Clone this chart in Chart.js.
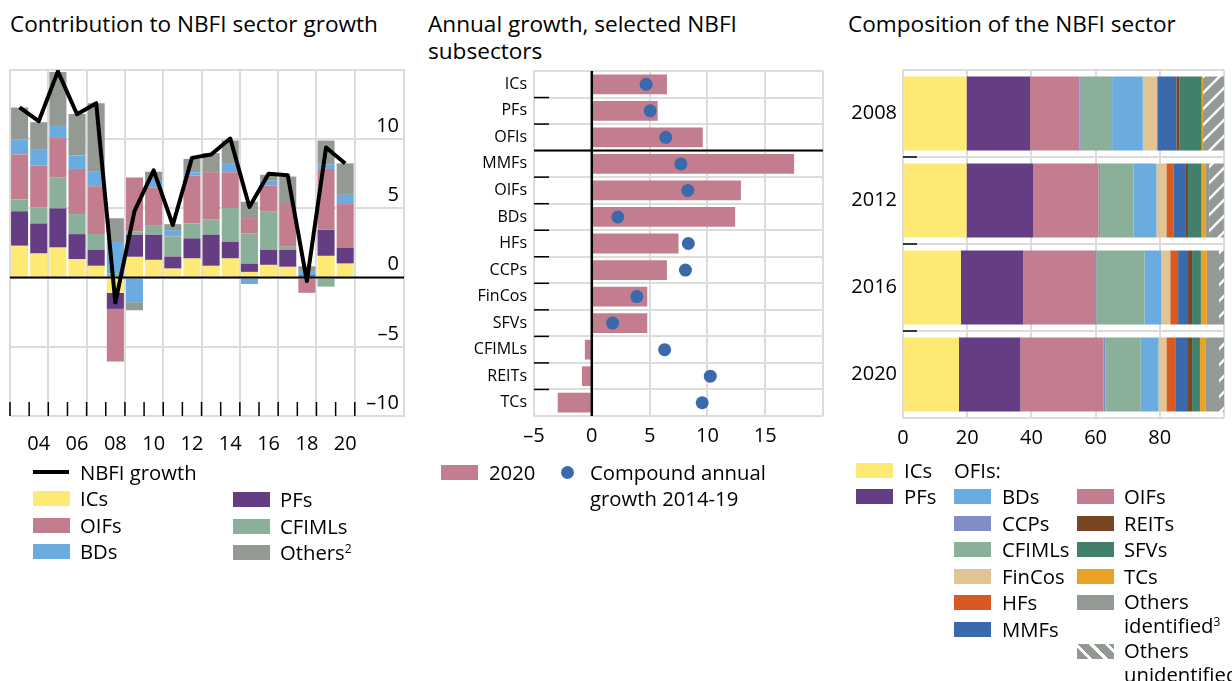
<!DOCTYPE html>
<html><head><meta charset="utf-8">
<script src="https://cdn.jsdelivr.net/npm/chart.js@4.4.1/dist/chart.umd.min.js"></script>
<style>
body{margin:0;background:#fff;width:1232px;height:681px;overflow:hidden;position:relative;font-family:"Open Sans","Noto Sans",sans-serif;color:#000}
.t{position:absolute;font-size:22.6px;line-height:27px;white-space:nowrap}
.cv{position:absolute;top:0}
.lg{position:absolute;font-size:20.3px;line-height:26px;white-space:nowrap}
.sw{position:absolute;width:37px;height:15px}
.ln{position:absolute;width:36px;height:4px;background:#000}
.dot{position:absolute;width:13px;height:13px;border-radius:50%;background:#3a6aab}
sup{font-size:12px;vertical-align:top;position:relative;top:-3px}
</style></head><body>

<div class="t" style="left:10px;top:10px">Contribution to NBFI sector growth</div>
<div class="t" style="left:428px;top:10px">Annual growth, selected NBFI<br>subsectors</div>
<div class="t" style="left:848px;top:10px">Composition of the NBFI sector</div>

<canvas id="c1" class="cv" style="left:0" width="420" height="460"></canvas>
<canvas id="c2" class="cv" style="left:420px" width="412" height="460"></canvas>
<canvas id="c3" class="cv" style="left:832px" width="400" height="460"></canvas>

<!-- left legend -->
<div class="ln" style="left:33px;top:470px"></div><div class="lg" style="left:80px;top:459px">NBFI growth</div>
<div class="sw" style="left:33px;top:491px;background:#fde974"></div><div class="lg" style="left:80px;top:485px">ICs</div>
<div class="sw" style="left:33px;top:518px;background:#c27e8f"></div><div class="lg" style="left:80px;top:512px">OIFs</div>
<div class="sw" style="left:33px;top:544px;background:#6aabe0"></div><div class="lg" style="left:80px;top:538px">BDs</div>
<div class="sw" style="left:233px;top:492px;background:#643d82"></div><div class="lg" style="left:280px;top:486px">PFs</div>
<div class="sw" style="left:233px;top:519px;background:#8bb09a"></div><div class="lg" style="left:280px;top:513px">CFIMLs</div>
<div class="sw" style="left:233px;top:545px;background:#939a93"></div><div class="lg" style="left:280px;top:539px">Others<sup>2</sup></div>

<!-- middle legend -->
<div class="sw" style="left:441px;top:465px;background:#c27e8f"></div><div class="lg" style="left:489px;top:459px">2020</div>
<div class="dot" style="left:561px;top:466px"></div><div class="lg" style="left:590px;top:459px">Compound annual<br>growth 2014-19</div>

<!-- right legend -->
<div class="sw" style="left:856px;top:463px;background:#fde974"></div><div class="lg" style="left:904px;top:457px">ICs</div>
<div class="sw" style="left:856px;top:489px;background:#643d82"></div><div class="lg" style="left:904px;top:483px">PFs</div>
<div class="lg" style="left:954px;top:457px">OFIs:</div>
<div class="sw" style="left:954px;top:489px;background:#6aabe0"></div><div class="lg" style="left:1002px;top:483px">BDs</div>
<div class="sw" style="left:954px;top:516px;background:#828dc6"></div><div class="lg" style="left:1002px;top:510px">CCPs</div>
<div class="sw" style="left:954px;top:542px;background:#8bb09a"></div><div class="lg" style="left:1002px;top:536px">CFIMLs</div>
<div class="sw" style="left:954px;top:569px;background:#e2c393"></div><div class="lg" style="left:1002px;top:563px">FinCos</div>
<div class="sw" style="left:954px;top:595px;background:#d65a22"></div><div class="lg" style="left:1002px;top:589px">HFs</div>
<div class="sw" style="left:954px;top:622px;background:#3a6aab"></div><div class="lg" style="left:1002px;top:616px">MMFs</div>
<div class="sw" style="left:1077px;top:489px;background:#c27e8f"></div><div class="lg" style="left:1124px;top:483px">OIFs</div>
<div class="sw" style="left:1077px;top:516px;background:#7a4522"></div><div class="lg" style="left:1124px;top:510px">REITs</div>
<div class="sw" style="left:1077px;top:542px;background:#41806b"></div><div class="lg" style="left:1124px;top:536px">SFVs</div>
<div class="sw" style="left:1077px;top:569px;background:#eba127"></div><div class="lg" style="left:1124px;top:563px">TCs</div>
<div class="sw" style="left:1077px;top:595px;background:#939a93"></div><div class="lg" style="left:1124px;top:589px;line-height:24px">Others<br>identified<sup>3</sup></div>
<div class="sw" style="left:1077px;top:644px;background:repeating-linear-gradient(45deg,#939a93 0 8px,#fff 8px 11px)"></div><div class="lg" style="left:1124px;top:638px;line-height:24px">Others<br>unidentified</div>

<script>
// ---------- Left panel: contribution to NBFI sector growth ----------
const years  = [2003,2004,2005,2006,2007,2008,2009,2010,2011,2012,2013,2014,2015,2016,2017,2018,2019,2020];
const growth = [12.3,11.3,14.9,11.8,12.6,-1.8,4.8,7.75,3.8,8.65,8.9,10.05,5.1,7.5,7.4,-0.25,9.4,8.25];
const icsC   = [2.3,1.74,2.17,1.33,0.85,-1.1,1.5,1.28,0.65,1.38,0.85,1.38,0.41,0.92,0.78,0,1.57,1.01];
const pfsC   = [2.49,2.17,2.83,1.81,1.16,-1.16,1.59,1.81,0.87,1.45,2.25,1.21,0.6,1.09,1.23,0.17,1.88,1.16];
const cfimlC = [0.85,1.16,2.25,1.45,1.14,0.3,0.24,0.65,1.45,1.09,1.09,2.44,2.17,2.75,0.22,0,-0.65,0];
const oifsC  = [3.26,3.02,2.83,3.26,3.45,-3.8,3.91,2.78,0.1,3.45,3.43,2.58,1.12,1.88,3.09,-1.1,4.4,3.14];
const bdsC   = [1.09,1.14,0.87,0.97,1.09,2.27,-1.78,0.53,0.36,0.24,0,0.61,-0.46,0.36,0,0.31,0.31,0.67];
const othC   = [2.3,2.0,3.91,3.0,4.9,1.72,-0.58,0.6,0.43,0.97,1.38,1.69,1.18,0.43,1.98,0.34,1.74,2.27];
const tickYears  = [2004,2006,2008,2010,2012,2014,2016,2018,2020];
const tickLabels = ['04','06','08','10','12','14','16','18','20'];

// ---------- Middle panel: annual growth ----------
const subsectors = ['ICs','PFs','OFIs','MMFs','OIFs','BDs','HFs','CCPs','FinCos','SFVs','CFIMLs','REITs','TCs'];
const growth2020 = [6.5,5.7,9.6,17.5,12.9,12.4,7.5,6.5,4.8,4.8,-0.6,-0.85,-2.95];
const cagr1419   = [4.7,5.05,6.4,7.7,8.3,2.25,8.35,8.1,3.9,1.8,6.3,10.25,9.55];

// ---------- Right panel: composition ----------
const compYears = ['2008','2012','2016','2020'];
const sICs   = [19.8,19.8,18.05,17.45];
const sPFs   = [19.8,20.7,19.4,19.1];
const sOIFs  = [15.4,20.4,22.35,25.85];
const sCCPs  = [0.4,0.5,0.5,0.7];
const sCFIML = [9.75,10.45,14.95,10.95];
const sBDs   = [9.55,7.1,5.25,5.55];
const sFinCo = [4.3,3.1,2.75,2.45];
const sHFs   = [0.3,2.15,2.45,2.75];
const sMMFs  = [5.85,3.7,3.1,3.7];
const sREITs = [0.9,0.9,1.25,1.55];
const sSFVs  = [7.0,4.2,2.75,2.45];
const sTCs   = [0.4,1.35,1.85,1.85];
const sOthId = [0,1.0,3.8,4.1];
const sOthUn = [6.55,4.6,1.55,1.55];

const C = {ics:'#fde974',pfs:'#643d82',oifs:'#c27e8f',bds:'#6aabe0',ccps:'#828dc6',cfiml:'#8bb09a',
  finco:'#e2c393',hfs:'#d65a22',mmfs:'#3a6aab',reits:'#7a4522',sfvs:'#41806b',tcs:'#eba127',oth:'#939a93'};
const GRID = '#dcdcdc';
const FONT = '"Open Sans","Noto Sans",sans-serif';
Chart.defaults.font.family = FONT;
Chart.defaults.color = '#000';

function fmt(v){ return v<0 ? '\u2013'+Math.abs(v) : String(v); }

function hatch(){
  const c=document.createElement('canvas'); c.width=16; c.height=16;
  const g=c.getContext('2d');
  g.fillStyle=C.oth; g.fillRect(0,0,16,16);
  g.strokeStyle='#fff'; g.lineWidth=2.4;
  g.beginPath();
  g.moveTo(-2,18); g.lineTo(18,-2);
  g.moveTo(-10,10); g.lineTo(10,-10);
  g.moveTo(6,26); g.lineTo(26,6);
  g.stroke();
  return g.createPattern(c,'repeat');
}

const extras = {
  id:'extras',
  afterDatasetsDraw(chart, args, o){
    const ctx=chart.ctx, a=chart.chartArea;
    ctx.save();
    (o.hlines||[]).forEach(l=>{
      const p=chart.scales[l.scale].getPixelForValue(l.value);
      ctx.strokeStyle=l.color; ctx.lineWidth=l.width;
      ctx.beginPath(); ctx.moveTo(a.left,p); ctx.lineTo(a.right,p); ctx.stroke();
    });
    (o.vlines||[]).forEach(l=>{
      const p=chart.scales[l.scale].getPixelForValue(l.value);
      ctx.strokeStyle=l.color; ctx.lineWidth=l.width;
      ctx.beginPath(); ctx.moveTo(p,a.top); ctx.lineTo(p,a.bottom); ctx.stroke();
    });
    (o.ticks||[]).forEach(t=>{
      const s=chart.scales[t.scale];
      ctx.strokeStyle=t.color; ctx.lineWidth=t.width;
      t.values.forEach(v=>{
        const p=s.getPixelForValue(v);
        ctx.beginPath();
        if (s.isHorizontal()) { ctx.moveTo(p,a.bottom); ctx.lineTo(p,a.bottom-t.len); }
        else { ctx.moveTo(a.left,p); ctx.lineTo(a.left+t.len,p); }
        ctx.stroke();
      });
    });
    ctx.restore();
  }
};

// ---- Chart 1 ----
const xy = arr => years.map((y,i)=>({x:y,y:arr[i]}));
const barSet = (label,arr,color)=>({type:'bar',label,data:xy(arr),backgroundColor:color,stack:'s',
  barPercentage:1,categoryPercentage:0.89,borderWidth:0,xAxisID:'x',yAxisID:'y',order:1});
const boundaries = years.map(y=>y-0.5).concat([years[years.length-1]+0.5]);
const gridYears = boundaries.filter((v,i)=>i%2===0);

new Chart(document.getElementById('c1'),{
  type:'bar',
  data:{datasets:[
    {type:'line',label:'NBFI growth',data:xy(growth),borderColor:'#000',borderWidth:4,pointRadius:0,
     stack:'line',xAxisID:'x',yAxisID:'y',tension:0,order:0,borderJoinStyle:'round'},
    barSet('ICs',icsC,C.ics),
    barSet('PFs',pfsC,C.pfs),
    barSet('CFIMLs',cfimlC,C.cfiml),
    barSet('OIFs',oifsC,C.oifs),
    barSet('BDs',bdsC,C.bds),
    barSet('Others',othC,C.oth)
  ]},
  options:{
    responsive:false, animation:false,
    layout:{padding:{left:10,right:16,top:70,bottom:0}},
    plugins:{legend:{display:false},tooltip:{enabled:false},
      extras:{hlines:[{scale:'y',value:0,color:'#000',width:2}],
              ticks:[{scale:'x',values:boundaries,len:14,color:'#000',width:1.5}]}},
    scales:{
      x:{type:'linear',min:2002.5,max:2023.07,stacked:true,position:'bottom',offset:false,
        afterBuildTicks:s=>{s.ticks=tickYears.map(v=>({value:v}));},
        ticks:{callback:v=>tickLabels[tickYears.indexOf(v)],font:{size:20},padding:8,maxRotation:0,autoSkip:false},
        grid:{display:false,offset:false},border:{display:false},
        afterFit:s=>{s.height=44;}},
      xg:{type:'linear',min:2002.5,max:2023.07,position:'bottom',offset:false,
        afterBuildTicks:s=>{s.ticks=gridYears.map(v=>({value:v}));},
        ticks:{display:false},grid:{color:GRID,lineWidth:2,drawTicks:false,offset:false},border:{display:false},
        afterFit:s=>{s.height=0;}},
      y:{type:'linear',position:'right',min:-10,max:15,stacked:true,
        ticks:{stepSize:5,mirror:true,padding:-5,labelOffset:-13,font:{size:20},
          callback:v=>v===15?'':fmt(v)},
        grid:{color:GRID,lineWidth:2,drawTicks:false},
        border:{display:true,color:GRID,width:2},
        afterFit:s=>{s.width=0;}}
    }
  },
  plugins:[extras]
});

// ---- Chart 2 ----
new Chart(document.getElementById('c2'),{
  type:'bar',
  data:{labels:subsectors,datasets:[
    {type:'line',label:'Compound annual growth 2014-19',data:cagr1419,indexAxis:'y',showLine:false,
     pointRadius:6.5,pointBackgroundColor:'#3a6aab',pointBorderWidth:0,order:0},
    {type:'bar',label:'2020',data:growth2020,backgroundColor:C.oifs,barPercentage:0.745,categoryPercentage:1,order:1}
  ]},
  options:{
    indexAxis:'y',responsive:false,animation:false,
    layout:{padding:{left:0,right:9,top:71,bottom:0}},
    plugins:{legend:{display:false},tooltip:{enabled:false},
      extras:{hlines:[{scale:'y',value:2.5,color:'#000',width:2}],
              vlines:[{scale:'x',value:0,color:'#000',width:2.5}],
              ticks:[{scale:'y',values:[0.5,1.5,3.5,4.5,5.5,6.5,7.5,8.5,9.5,10.5,11.5],len:15,color:'#000',width:1.5}]}},
    scales:{
      x:{type:'linear',min:-5,max:20,
        ticks:{stepSize:5,font:{size:20},padding:8,callback:v=>v===20?'':fmt(v)},
        grid:{color:GRID,lineWidth:2,drawTicks:false},border:{display:false},
        afterFit:s=>{s.height=44;}},
      y:{type:'category',
        ticks:{font:{size:16},padding:7,autoSkip:false},
        grid:{color:GRID,lineWidth:2,drawTicks:false,offset:true},
        border:{display:true,color:GRID,width:2},
        afterFit:s=>{s.width=114;}}
    }
  },
  plugins:[extras]
});

// ---- Chart 3 ----
const pat = hatch();
const comp = (label,arr,color)=>({label,data:arr,backgroundColor:color,barPercentage:0.85,categoryPercentage:1,borderWidth:0});
new Chart(document.getElementById('c3'),{
  type:'bar',
  data:{labels:compYears,datasets:[
    comp('ICs',sICs,C.ics),comp('PFs',sPFs,C.pfs),comp('OIFs',sOIFs,C.oifs),comp('CCPs',sCCPs,C.ccps),
    comp('CFIMLs',sCFIML,C.cfiml),comp('BDs',sBDs,C.bds),comp('FinCos',sFinCo,C.finco),comp('HFs',sHFs,C.hfs),
    comp('MMFs',sMMFs,C.mmfs),comp('REITs',sREITs,C.reits),comp('SFVs',sSFVs,C.sfvs),comp('TCs',sTCs,C.tcs),
    comp('Others identified',sOthId,C.oth),comp('Others unidentified',sOthUn,pat)
  ]},
  options:{
    indexAxis:'y',responsive:false,animation:false,
    layout:{padding:{left:0,right:4,top:70,bottom:0}},
    plugins:{legend:{display:false},tooltip:{enabled:false},
      extras:{ticks:[{scale:'y',values:[0.5,1.5,2.5],len:14,color:'#000',width:1.5}]}},
    scales:{
      x:{type:'linear',min:0,max:100,stacked:true,
        ticks:{stepSize:20,font:{size:20},padding:8,callback:v=>v===100?'':String(v)},
        grid:{color:GRID,lineWidth:2,drawTicks:false},border:{display:false},
        afterFit:s=>{s.height=42;}},
      y:{type:'category',stacked:true,
        ticks:{font:{size:20},padding:6,autoSkip:false},
        grid:{color:GRID,lineWidth:2,drawTicks:false,offset:true},
        border:{display:true,color:GRID,width:2},
        afterFit:s=>{s.width=71;}}
    }
  },
  plugins:[extras]
});
</script>
</body></html>
